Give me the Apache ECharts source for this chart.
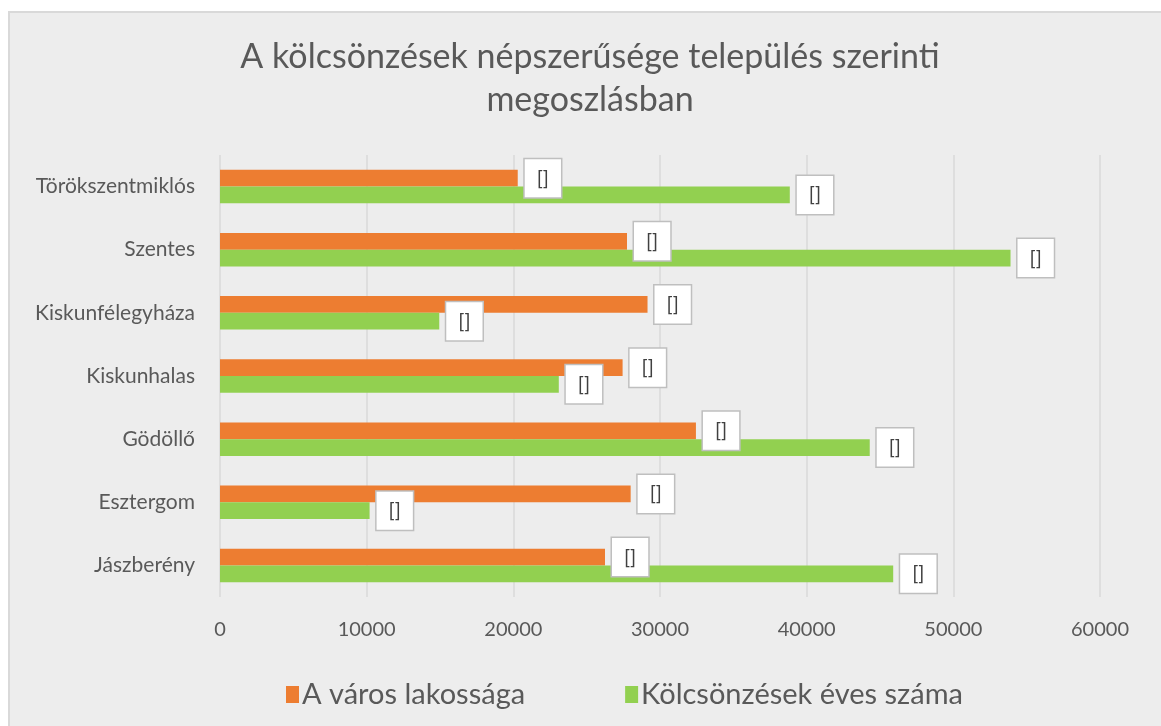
<!DOCTYPE html>
<html>
<head>
<meta charset="utf-8">
<script src="https://cdn.jsdelivr.net/npm/echarts@6/dist/echarts.min.js"></script>
<style>
html,body{margin:0;padding:0;background:#ffffff;}
#chart{width:1161px;height:726px;}
</style>
</head>
<body>
<div id="chart"></div>
<script>
const categories = ['Törökszentmiklós','Szentes','Kiskunfélegyháza','Kiskunhalas','Gödöllő','Esztergom','Jászberény'];
const population = [20300, 27750, 29150, 27450, 32450, 28000, 26250];
const loans = [38850, 53900, 14950, 23100, 44300, 10200, 45900];
const seriesNames = ['A város lakossága','Kölcsönzések éves száma'];
const xTicks = [0, 10000, 20000, 30000, 40000, 50000, 60000];

const FONT = 'Lato';
const TXT = '#595959';
const chart = echarts.init(document.getElementById('chart'), null, {renderer:'canvas'});
const labelStyle = {
  show: true,
  position: 'right',
  distance: 7,
  formatter: () => '[]',
  fontFamily: FONT,
  fontSize: 20,
  color: '#404040',
  backgroundColor: '#ffffff',
  borderColor: '#bfbfbf',
  borderWidth: 1.5,
  lineHeight: 22,
  padding: [10, 12, 6, 12]
};
chart.setOption({
  animation: false,
  backgroundColor: '#ffffff',
  graphic: [{
    type: 'rect', left: 8, top: 11, z: -10, silent: true,
    shape: {width: 1160, height: 730},
    style: {fill: '#ededed', stroke: '#d9d9d9', lineWidth: 2}
  }],
  title: {
    text: 'A kölcsönzések népszerűsége település szerinti\nmegoszlásban',
    left: 585, top: 31, textAlign: 'center',
    textStyle: {fontFamily: FONT, fontSize: 34, fontWeight: 'normal', color: TXT, lineHeight: 43}
  },
  legend: {
    data: seriesNames,
    left: 281, bottom: 12,
    itemWidth: 13, itemHeight: 17, itemGap: 100,
    icon: 'rect',
    textStyle: {fontFamily: FONT, fontSize: 29, color: TXT, padding: [0,0,0,-2]}
  },
  grid: {left: 220, right: 61, top: 155, bottom: 129, containLabel: false},
  xAxis: {
    type: 'value', min: 0, max: 60000, interval: 10000,
    axisLine: {show: false}, axisTick: {show: false},
    axisLabel: {fontFamily: FONT, fontSize: 20, color: TXT, margin: 23,
      formatter: v => xTicks.includes(v) ? String(v) : ''},
    splitLine: {lineStyle: {color: '#d9d9d9', width: 1.5}}
  },
  yAxis: {
    type: 'category', data: categories, inverse: true,
    axisLine: {show: false}, axisTick: {show: false},
    axisLabel: {fontFamily: FONT, fontSize: 21, color: TXT, margin: 25}
  },
  series: [
    {name: seriesNames[0], type: 'bar', data: population, barGap: '0%', barCategoryGap: '47%',
     itemStyle: {color: '#ed7d31'}, label: labelStyle},
    {name: seriesNames[1], type: 'bar', data: loans, barGap: '0%', barCategoryGap: '47%',
     itemStyle: {color: '#92d050'}, label: labelStyle}
  ]
});
</script>
</body>
</html>
